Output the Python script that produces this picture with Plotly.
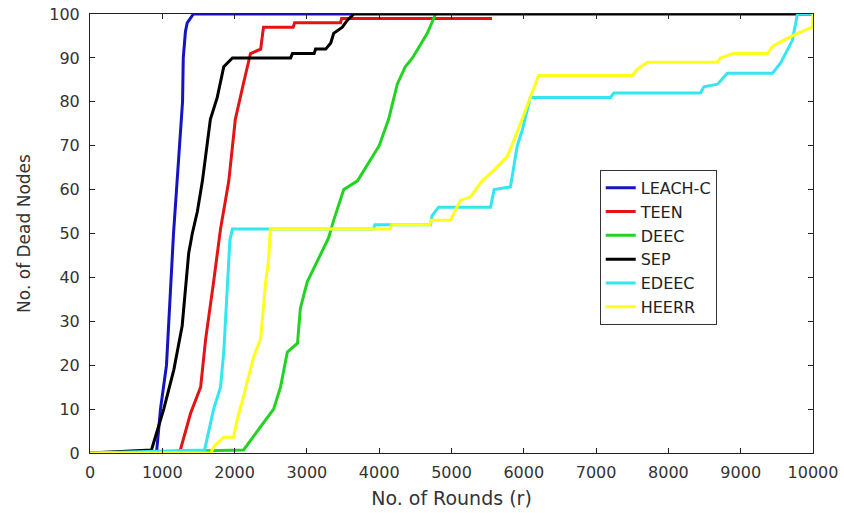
import plotly.graph_objects as go

# ---- data ----
leach_x = [0, 920, 975, 1058, 1155, 1280, 1290, 1320, 1345, 1400, 1430, 3650]
leach_y = [0, 0, 10, 20, 50, 80, 90, 96, 98, 99.5, 100, 100]

teen_x = [0, 1150, 1250, 1390, 1530, 1600, 1710, 1805, 1920, 2010, 2120, 2220, 2360, 2400, 2810, 2830, 3465, 3480, 5560]
teen_y = [0, 0, 0.7, 9, 15, 26, 39, 51, 62, 76, 84, 91, 92, 97, 97, 98, 98, 99, 99]

deec_x = [0, 2125, 2360, 2540, 2635, 2730, 2870, 2910, 3005, 3095, 3190, 3300, 3370, 3510, 3700, 4000, 4130, 4250, 4360, 4460, 4665, 4780]
deec_y = [0, 0.7, 6, 10, 15, 23, 25, 33, 39, 42, 45, 49, 53, 60, 62, 70, 76, 84, 88, 90, 95.6, 100]

sep_x = [0, 850, 1020, 1160, 1275, 1320, 1365, 1415, 1485, 1555, 1665, 1760, 1850, 1970, 2775, 2800, 3100, 3120, 3260, 3330, 3370, 3490, 3560, 3650, 10000]
sep_y = [0, 0.7, 10, 19, 29, 37, 45.5, 50, 55, 62, 76, 81, 88, 90, 90, 91, 91, 92, 92, 93.4, 95.6, 97, 98.6, 100, 100]

edeec_x = [0, 1585, 1710, 1805, 1850, 1900, 1935, 1970, 3920, 3940, 4710, 4730, 4820, 5540, 5590, 5815, 5910, 5980, 6050, 6090, 7200, 7245, 8445, 8490, 8680, 8815, 9440, 9550, 9715, 9785, 10000]
edeec_y = [0, 0.7, 10, 15, 23, 39, 48.5, 51, 51, 52, 52, 54, 56, 56, 60, 60.6, 70, 73.6, 78, 81, 81, 82, 82, 83.4, 84, 86.5, 86.5, 88.8, 94, 100, 100]

heerr_x = [0, 1670, 1710, 1850, 1985, 2035, 2125, 2220, 2265, 2360, 2430, 2470, 2495, 4150, 4170, 4700, 4720, 4985, 5125, 5260, 5425, 5590, 5770, 5860, 5955, 6090, 6205, 7500, 7570, 7710, 8680, 8720, 8900, 9370, 9440, 9590, 9785, 9900, 9990, 10000]
heerr_y = [0, 0, 1.4, 3.6, 3.6, 7.5, 13, 19.6, 22, 26, 39, 44, 51, 51, 52, 52, 53, 53, 57.6, 58.3, 62, 64.5, 67.5, 71, 75, 81, 86, 86, 87.4, 89, 89, 90, 91, 91, 92.6, 94, 95.6, 96.4, 97, 100]

series = [
    ("LEACH-C", leach_x, leach_y, "#1414c0"),
    ("TEEN", teen_x, teen_y, "#e41414"),
    ("DEEC", deec_x, deec_y, "#22d422"),
    ("SEP", sep_x, sep_y, "#000000"),
    ("EDEEC", edeec_x, edeec_y, "#33e6f0"),
    ("HEERR", heerr_x, heerr_y, "#ffff1a"),
]

x_ticks = list(range(0, 10001, 1000))
y_ticks = list(range(0, 101, 10))

FONT = "DejaVu Sans"

fig = go.Figure()
for name, xs, ys, col in series:
    fig.add_trace(go.Scatter(x=xs, y=ys, mode="lines", name=name,
                             line=dict(color=col, width=3)))

axis_common = dict(
    showgrid=False, zeroline=False, showline=True, linecolor="#222222", linewidth=1,
    mirror="ticks", ticks="inside", ticklen=5, tickcolor="#222222",
    tickfont=dict(family=FONT, size=16, color="#333333"),
    automargin=False,
)

fig.update_layout(
    width=844, height=513,
    margin=dict(l=90, r=31, t=14, b=60),
    paper_bgcolor="white", plot_bgcolor="white",
    font=dict(family=FONT, color="#333333"),
    xaxis=dict(range=[0, 10000], tickvals=x_ticks, ticktext=[str(v) for v in x_ticks],
               ticklabelstandoff=5,
               title=dict(text="No. of Rounds (r)", font=dict(size=19, color="#333333"), standoff=10),
               **axis_common),
    yaxis=dict(range=[0, 100], tickvals=y_ticks, ticktext=[str(v) for v in y_ticks],
               ticklabelstandoff=6,
               title=dict(text="No. of Dead Nodes", font=dict(size=17, color="#333333"), standoff=14),
               **axis_common),
    legend=dict(x=0.705, y=0.645, xanchor="left", yanchor="top",
                bgcolor="white", bordercolor="#333333", borderwidth=1,
                font=dict(family=FONT, size=16, color="#222222"),
                tracegroupgap=0, itemwidth=30),
    showlegend=True,
)

fig.write_html("out.html")
